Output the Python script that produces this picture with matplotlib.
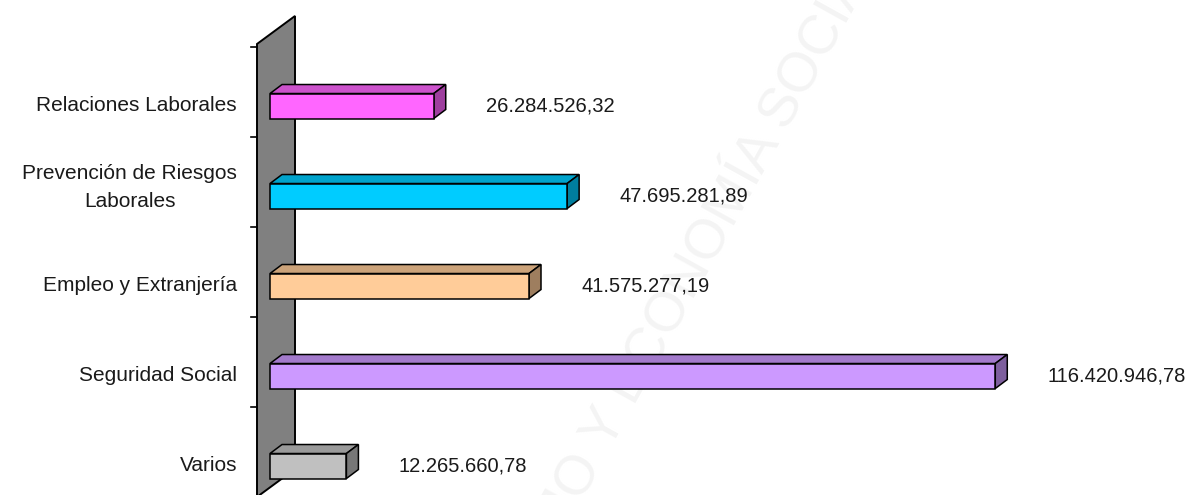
import matplotlib
matplotlib.use("Agg")
import matplotlib.pyplot as plt
from matplotlib.patches import Polygon, Rectangle
import numpy as np

# ---- data (bottom to top) ----
categories = ["Varios", "Seguridad Social", "Empleo y Extranjería",
              "Prevención de Riesgos\nLaborales", "Relaciones Laborales"]
values = [12265660.78, 116420946.78, 41575277.19, 47695281.89, 26284526.32]
value_labels = ["12.265.660,78", "116.420.946,78", "41.575.277,19",
                "47.695.281,89", "26.284.526,32"]
front_colors = ["#C0C0C0", "#CC99FF", "#FFCC99", "#00CCFF", "#FF66FF"]

FONT = ["Liberation Sans", "DejaVu Sans"]
plt.rcParams["font.family"] = FONT

W, H = 1192, 495
fig = plt.figure(figsize=(W / 100, H / 100), dpi=100)
ax = fig.add_axes([0, 0, 1, 1])
ax.axis("off")

XMAX = 148e6
X0_PX = 270            # pixel position of value 0
ax.set_xlim(-XMAX * X0_PX / (W - X0_PX), XMAX)
ax.set_ylim(-0.322, 5.178)

px_x = XMAX / (W - X0_PX)       # data units per pixel (x)
px_y = 5.5 / H                  # data units per pixel (y)


def shade(c, f):
    r, g, b = matplotlib.colors.to_rgb(c)
    return (r * f, g * f, b * f)


# watermark
for txt, ha in [("TRABAJO ", "right"), ("Y ECONOMÍA SOCIAL", "left")]:
    ax.annotate(txt, xy=(610, H - 452), xycoords="figure pixels",
                rotation=61, rotation_mode="anchor", ha=ha, va="baseline",
                fontsize=40, color="#f4f4f4", zorder=0)

# ---- wall ----
n = len(categories)
tick_pos = np.arange(-1, n) + 0.656
wall_front = -13 * px_x
wall_dx = 38 * px_x
wall_dy = 28 * px_y
wall_bot = tick_pos[0]
wall_top = tick_pos[-1] + 3 * px_y
wall = Polygon([(wall_front, wall_bot), (wall_front, wall_top),
                (wall_front + wall_dx, wall_top + wall_dy),
                (wall_front + wall_dx, wall_bot + wall_dy)],
               closed=True, facecolor="#808080", edgecolor="black", lw=1.4, zorder=1)
ax.add_patch(wall)
for t in tick_pos:
    ax.plot([wall_front - 6 * px_x, wall_front], [t, t], color="black", lw=1.2, zorder=2)

# ---- bars ----
hh = 12.5 * px_y
ddx = 12 * px_x
ddy = 9 * px_y
for i, (v, fc) in enumerate(zip(values, front_colors)):
    c = i
    top = Polygon([(0, c + hh), (v, c + hh), (v + ddx, c + hh + ddy), (ddx, c + hh + ddy)],
                  closed=True, facecolor=shade(fc, 0.8), edgecolor="black", lw=1.1, zorder=3)
    side = Polygon([(v, c - hh), (v + ddx, c - hh + ddy), (v + ddx, c + hh + ddy), (v, c + hh)],
                   closed=True, facecolor=shade(fc, 0.62), edgecolor="black", lw=1.1, zorder=3)
    front = Rectangle((0, c - hh), v, 2 * hh, facecolor=fc, edgecolor="black", lw=1.1, zorder=4)
    ax.add_patch(top)
    ax.add_patch(side)
    ax.add_patch(front)
    ax.text(v + 52 * px_x, c, value_labels[i], ha="left", va="center",
            fontsize=14.5, color="#1a1a1a", zorder=5)
    lab = categories[i]
    ly = c + (9 * px_y if "\n" in lab else 1 * px_y)
    ax.text(-33 * px_x, ly, lab, ha="right", va="center", multialignment="center",
            fontsize=15, color="#1a1a1a", zorder=5, linespacing=1.6)

fig.savefig("out.png", dpi=100)
